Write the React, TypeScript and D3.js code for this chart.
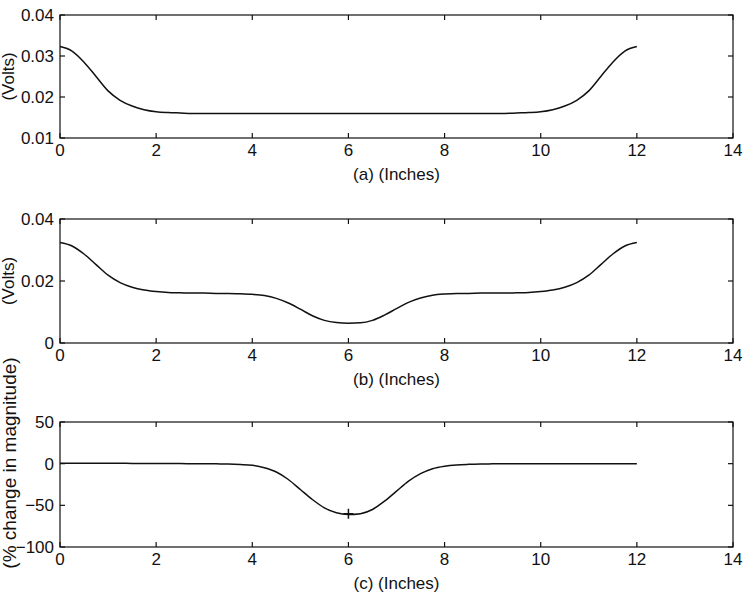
import React, { useEffect, useRef } from 'react';
import * as d3 from 'd3';

// position along the strip, inches (0.25" steps)
const inches = [
  0, 0.25, 0.5, 0.75, 1, 1.25, 1.5, 1.75, 2, 2.25, 2.5, 2.75, 3,
  3.25, 3.5, 3.75, 4, 4.25, 4.5, 4.75, 5, 5.25, 5.5, 5.75, 6,
  6.25, 6.5, 6.75, 7, 7.25, 7.5, 7.75, 8, 8.25, 8.5, 8.75, 9,
  9.25, 9.5, 9.75, 10, 10.25, 10.5, 10.75, 11, 11.25, 11.5, 11.75, 12,
];

// (a) reference signal, volts
const voltsA = [
  0.0323, 0.0312, 0.0285, 0.025, 0.0215, 0.0192, 0.0178, 0.0169, 0.0164, 0.0162, 0.0161, 0.016, 0.016,
  0.016, 0.016, 0.016, 0.016, 0.016, 0.016, 0.016, 0.016, 0.016, 0.016, 0.016, 0.016,
  0.016, 0.016, 0.016, 0.016, 0.016, 0.016, 0.016, 0.016, 0.016, 0.016, 0.016, 0.016,
  0.016, 0.0161, 0.0162, 0.0164, 0.0169, 0.0178, 0.0192, 0.0215, 0.025, 0.0285, 0.0312, 0.0323,
];

// (b) signal with flaw, volts
const voltsB = [
  0.0324, 0.0313, 0.0287, 0.0253, 0.0219, 0.0195, 0.018, 0.0171, 0.0166, 0.0163, 0.0162, 0.0161, 0.0161,
  0.016, 0.016, 0.0159, 0.0157, 0.0153, 0.0144, 0.0129, 0.0109, 0.0088, 0.0073, 0.0066, 0.0064,
  0.0065, 0.0073, 0.009, 0.0111, 0.0131, 0.0145, 0.0154, 0.0158, 0.016, 0.016, 0.0161, 0.0161,
  0.0161, 0.0162, 0.0163, 0.0166, 0.0171, 0.018, 0.0195, 0.0219, 0.0253, 0.0287, 0.0313, 0.0324,
];

// (c) % change in magnitude
const pctChange = [
  0.5, 0.5, 0.5, 0.4, 0.4, 0.4, 0.3, 0.3, 0.2, 0.2, 0.1, 0, 0,
  -0.2, -0.4, -1, -2, -5, -10, -19, -31, -43, -53, -59, -61,
  -60, -55, -45, -33, -21, -12, -6, -3, -1.5, -0.8, -0.4, -0.2,
  0, 0, 0, 0, 0, 0, 0, 0, 0, 0, 0, 0,
];

const xTicks = [0, 2, 4, 6, 8, 10, 12, 14];
const marker = { x: 6, y: -60 };

const panels = [
  { top: 15, bottom: 138, ys: voltsA, domain: [0.01, 0.04], yTicks: [0.01, 0.02, 0.03, 0.04], xlabel: '(a) (Inches)', ylabel: '(Volts)', fmt: (d: number) => d.toFixed(2) },
  { top: 219, bottom: 343, ys: voltsB, domain: [0, 0.04], yTicks: [0, 0.02, 0.04], xlabel: '(b) (Inches)', ylabel: '(Volts)', fmt: (d: number) => (d === 0 ? '0' : d.toFixed(2)) },
  { top: 422, bottom: 547, ys: pctChange, domain: [-100, 50], yTicks: [-100, -50, 0, 50], xlabel: '(c) (Inches)', ylabel: '(% change in magnitude)', fmt: (d: number) => String(d).replace('-', '\u2212') },
];

const App = () => {
  const ref = useRef<SVGSVGElement>(null);

  useEffect(() => {
    const svg = d3.select(ref.current);
    svg.selectAll('*').remove();
    const left = 60, right = 733, tick = 5;
    const font = 'Liberation Sans, Arial, Helvetica, sans-serif';
    const x = d3.scaleLinear().domain([0, 14]).range([left, right]);

    panels.forEach((p, k) => {
      const y = d3.scaleLinear().domain(p.domain).range([p.bottom, p.top]);
      const g = svg.append('g');

      g.append('rect')
        .attr('x', left).attr('y', p.top)
        .attr('width', right - left).attr('height', p.bottom - p.top)
        .attr('fill', 'none').attr('stroke', '#111').attr('stroke-width', 1.2);

      // inward ticks on all four sides
      xTicks.forEach((t) => {
        g.append('line').attr('x1', x(t)).attr('x2', x(t)).attr('y1', p.bottom).attr('y2', p.bottom - tick).attr('stroke', '#111').attr('stroke-width', 1.2);
        g.append('line').attr('x1', x(t)).attr('x2', x(t)).attr('y1', p.top).attr('y2', p.top + tick).attr('stroke', '#111').attr('stroke-width', 1.2);
        g.append('text').attr('x', x(t)).attr('y', p.bottom + 18)
          .attr('text-anchor', 'middle').attr('font-family', font).attr('font-size', 17).attr('fill', '#111')
          .text(String(t));
      });
      p.yTicks.forEach((t) => {
        g.append('line').attr('x1', left).attr('x2', left + tick).attr('y1', y(t)).attr('y2', y(t)).attr('stroke', '#111').attr('stroke-width', 1.2);
        g.append('line').attr('x1', right).attr('x2', right - tick).attr('y1', y(t)).attr('y2', y(t)).attr('stroke', '#111').attr('stroke-width', 1.2);
        g.append('text').attr('x', left - 6).attr('y', y(t)).attr('dy', '0.36em')
          .attr('text-anchor', 'end').attr('font-family', font).attr('font-size', 17).attr('fill', '#111')
          .text(p.fmt(t));
      });

      g.append('text').attr('x', (left + right) / 2).attr('y', p.bottom + 42)
        .attr('text-anchor', 'middle').attr('font-family', font).attr('font-size', 17).attr('fill', '#111')
        .text(p.xlabel);

      const isC = k === 2;
      g.append('text')
        .attr('transform', `translate(${isC ? 16 : 14},${isC ? 463 : (p.top + p.bottom) / 2}) rotate(-90)`)
        .attr('text-anchor', 'middle').attr('font-family', font).attr('font-size', isC ? 19 : 17).attr('fill', '#111')
        .text(p.ylabel);

      const line = d3.line<number>()
        .x((_, i) => x(inches[i]))
        .y((d) => y(d))
        .curve(d3.curveMonotoneX);
      g.append('path').datum(p.ys).attr('d', line)
        .attr('fill', 'none').attr('stroke', '#111').attr('stroke-width', 1.5);

      if (isC) {
        const mx = x(marker.x), my = y(marker.y);
        g.append('path').attr('d', `M${mx - 5},${my}H${mx + 5}M${mx},${my - 5}V${my + 5}`)
          .attr('stroke', '#111').attr('stroke-width', 1.5);
      }
    });
  }, []);

  return (
    <svg ref={ref} width={745} height={594} style={{ position: 'absolute', left: 0, top: 0, background: '#fff' }} />
  );
};

export default App;
